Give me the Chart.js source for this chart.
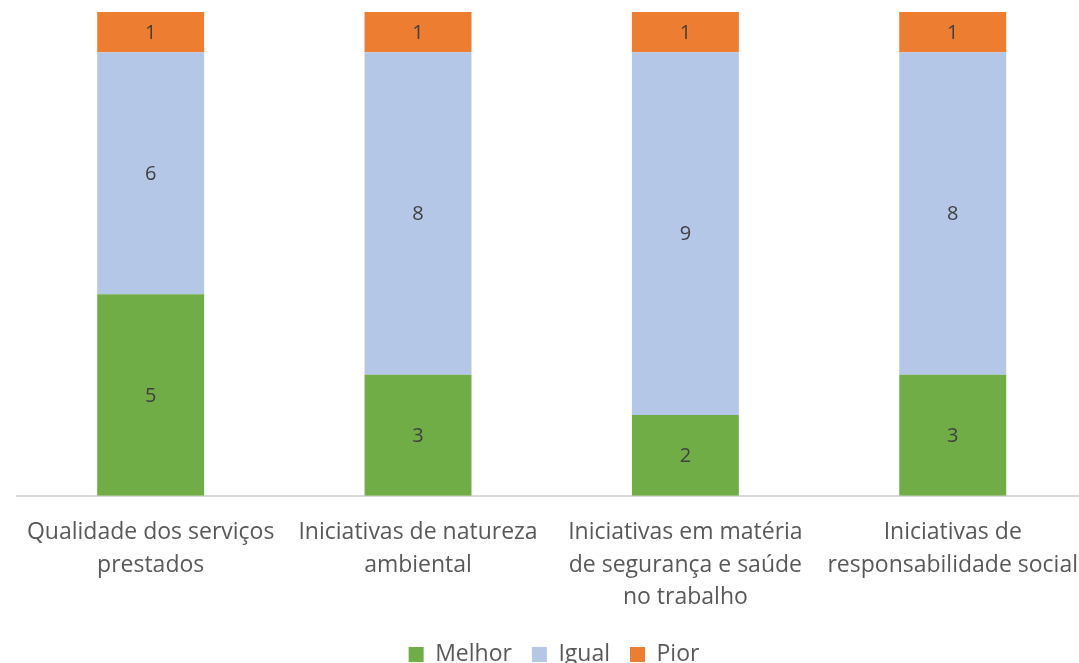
<!DOCTYPE html>
<html>
<head>
<meta charset="utf-8">
<script src="https://cdn.jsdelivr.net/npm/chart.js@4.4.1/dist/chart.umd.min.js"></script>
<style>
  html, body { margin: 0; padding: 0; background: #fff; overflow: hidden; }
  #clip { position: relative; width: 1079px; height: 663px; overflow: hidden; }
  #chart { position: absolute; left: 0; top: 0; }
</style>
</head>
<body>
<div id="clip"><canvas id="chart" width="1091" height="676"></canvas></div>
<script>
"use strict";

// categorias (eixo X)
const categorias = [
    ['Qualidade dos serviços', 'prestados'],
    ['Iniciativas de natureza', 'ambiental'],
    ['Iniciativas em matéria', 'de segurança e saúde', 'no trabalho'],
    ['Iniciativas de', 'responsabilidade social']
];

// séries
const melhor = [5, 3, 2, 3];
const igual = [6, 8, 9, 8];
const pior = [1, 1, 1, 1];

const fonte = "'Open Sans', sans-serif";

// desenha os valores no centro de cada segmento
const rotulosPlugin = {
    id: 'rotulos',
    afterDatasetsDraw(chart) {
        const ctx = chart.ctx;
        ctx.save();
        ctx.font = `20px ${fonte}`;
        ctx.fillStyle = '#404040';
        ctx.textAlign = 'center';
        ctx.textBaseline = 'middle';
        chart.data.datasets.forEach((ds, i) => {
            const meta = chart.getDatasetMeta(i);
            meta.data.forEach((bar, j) => {
                const mid = (bar.y + bar.base) / 2;
                ctx.fillText(String(ds.data[j]), bar.x, mid + 1);
            });
        });
        ctx.restore();
    }
};

const ctx = document.getElementById('chart').getContext('2d');
new Chart(ctx, {
    type: 'bar',
    data: {
        labels: categorias,
        datasets: [
            { label: 'Melhor', data: melhor, backgroundColor: '#70AD47' },
            { label: 'Igual', data: igual, backgroundColor: '#B4C7E7' },
            { label: 'Pior', data: pior, backgroundColor: '#ED7D31' }
        ]
    },
    options: {
        responsive: false,
        animation: false,
        layout: { padding: { top: 12, left: 17, right: 0, bottom: 0 } },
        datasets: {
            bar: { categoryPercentage: 1, barPercentage: 0.4 }
        },
        scales: {
            x: {
                stacked: true,
                grid: { display: false },
                border: { display: true, color: '#D9D9D9', width: 2 },
                ticks: {
                    color: '#595959',
                    font: { family: fonte, size: 23, lineHeight: 1.41 },
                    padding: 13,
                    maxRotation: 0,
                    autoSkip: false
                },
                // os rótulos ficam mais perto da legenda
                afterFit(scale) {
                    scale.height -= 4;
                }
            },
            y: {
                stacked: true,
                display: false,
                min: 0,
                max: 12
            }
        },
        plugins: {
            legend: {
                position: 'bottom',
                labels: {
                    color: '#595959',
                    font: { family: fonte, size: 23 },
                    boxWidth: 15,
                    boxHeight: 15,
                    padding: 20
                }
            },
            tooltip: { enabled: false }
        }
    },
    plugins: [rotulosPlugin]
});
</script>
</body>
</html>
